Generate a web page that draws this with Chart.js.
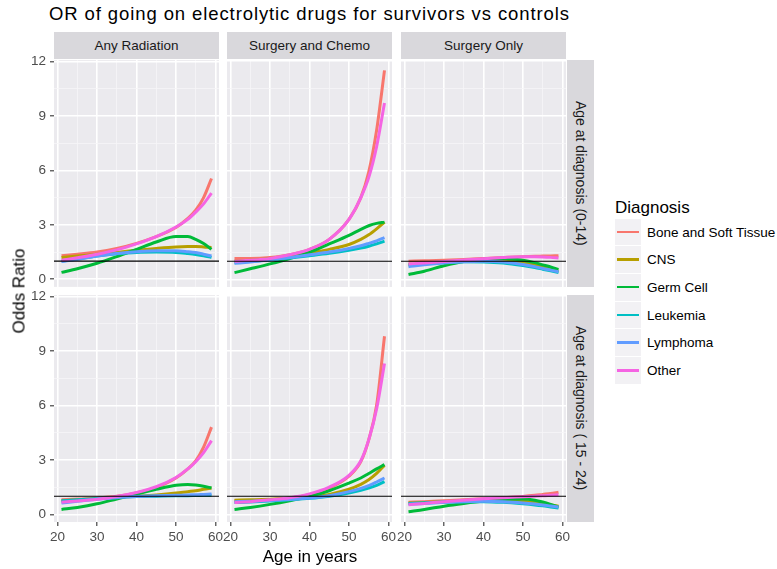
<!DOCTYPE html>
<html>
<head>
<meta charset="utf-8">
<script src="https://cdn.jsdelivr.net/npm/chart.js@4.4.0/dist/chart.umd.min.js"></script>
<style>
  body { margin: 0; background: #fff; }
  #fig { position: relative; width: 777px; height: 569px; overflow: hidden;
         font-family: "Liberation Sans", Arial, sans-serif; }
  #fig canvas { position: absolute; }
  .txt { position: absolute; line-height: 1; white-space: nowrap; }
  .strip { position: absolute; background: #d9d8dc; color: #1a1a1a; font-size: 13.5px;
           display: flex; align-items: center; justify-content: center; white-space: nowrap; }
  .strip.side { writing-mode: vertical-rl; font-size: 14px; }
  .key { position: absolute; left: 615px; width: 26px; height: 26.7px; background: #f2f1f4;
         border-bottom: 1px solid #fff; }
  .key span { position: absolute; left: 2px; right: 2px; top: 12px; height: 2.6px; }
  .keylbl { position: absolute; left: 647px; font-size: 13.5px; line-height: 1; color: #000;
            white-space: nowrap; }
</style>
</head>
<body>
<div id="fig"></div>
<script>
var ages = [21, 25, 30, 35, 40, 45, 50, 53, 55, 57, 59];
var diagnoses = ['Bone and Soft Tissue', 'CNS', 'Germ Cell', 'Leukemia', 'Lymphoma', 'Other'];
var colours = ['#F8766D', '#B79F00', '#00BA38', '#00BFC4', '#619CFF', '#F564E3'];
var treatments = ['Any Radiation', 'Surgery and Chemo', 'Surgery Only'];
var ageGroups = ['Age at diagnosis (0-14)', 'Age at diagnosis ( 15 - 24)'];
var xTicks = [20, 25, 30, 35, 40, 45, 50, 55, 60];
var yTicks = [0, 1.5, 3, 4.5, 6, 7.5, 9, 10.5, 12];
var refLine = 1;

// odds ratios, one row per diagnosis, one column per age
var radiationChild = [
    [1.30, 1.38, 1.50, 1.70, 1.98, 2.35, 2.85, 3.35, 3.80, 4.50, 5.55],
    [1.20, 1.28, 1.38, 1.48, 1.60, 1.70, 1.78, 1.80, 1.80, 1.78, 1.75],
    [0.38, 0.58, 0.88, 1.25, 1.65, 2.05, 2.35, 2.35, 2.20, 1.97, 1.65],
    [1.00, 1.12, 1.28, 1.40, 1.48, 1.50, 1.48, 1.42, 1.37, 1.30, 1.20],
    [0.98, 1.10, 1.28, 1.42, 1.52, 1.57, 1.57, 1.52, 1.47, 1.38, 1.28],
    [1.05, 1.18, 1.38, 1.62, 1.95, 2.35, 2.88, 3.30, 3.70, 4.15, 4.75]
];
var chemoChild = [
    [1.15, 1.15, 1.20, 1.35, 1.65, 2.20, 3.30, 4.50, 5.90, 8.20, 11.5],
    [1.00, 1.05, 1.15, 1.28, 1.45, 1.65, 1.92, 2.20, 2.45, 2.78, 3.15],
    [0.37, 0.58, 0.85, 1.15, 1.50, 1.95, 2.42, 2.75, 2.95, 3.08, 3.15],
    [0.92, 0.98, 1.08, 1.18, 1.30, 1.43, 1.60, 1.72, 1.82, 1.95, 2.10],
    [0.88, 0.96, 1.08, 1.20, 1.35, 1.50, 1.70, 1.85, 1.98, 2.12, 2.30],
    [1.00, 1.05, 1.15, 1.35, 1.65, 2.20, 3.30, 4.50, 5.60, 7.30, 9.70]
];
var surgeryChild = [
    [1.00, 1.02, 1.05, 1.10, 1.15, 1.20, 1.25, 1.27, 1.28, 1.29, 1.30],
    [0.80, 0.86, 0.95, 1.02, 1.06, 1.04, 0.92, 0.80, 0.68, 0.57, 0.45],
    [0.27, 0.45, 0.75, 0.98, 1.10, 1.15, 1.05, 0.92, 0.80, 0.68, 0.55],
    [0.80, 0.86, 0.93, 0.97, 0.96, 0.90, 0.76, 0.65, 0.56, 0.47, 0.38],
    [0.70, 0.80, 0.90, 0.97, 0.99, 0.95, 0.82, 0.70, 0.60, 0.51, 0.42],
    [0.85, 0.90, 0.98, 1.06, 1.14, 1.20, 1.24, 1.24, 1.23, 1.21, 1.18]
];
var radiationYoung = [
    [0.80, 0.84, 0.90, 1.00, 1.18, 1.48, 2.00, 2.50, 2.95, 3.70, 4.80],
    [0.75, 0.80, 0.87, 0.94, 1.00, 1.07, 1.17, 1.25, 1.30, 1.38, 1.45],
    [0.27, 0.38, 0.58, 0.85, 1.12, 1.38, 1.60, 1.65, 1.62, 1.55, 1.45],
    [0.75, 0.80, 0.87, 0.94, 0.98, 1.00, 1.02, 1.03, 1.04, 1.05, 1.05],
    [0.62, 0.72, 0.83, 0.92, 0.98, 1.02, 1.05, 1.07, 1.08, 1.10, 1.12],
    [0.67, 0.73, 0.83, 0.98, 1.20, 1.52, 2.03, 2.50, 2.90, 3.40, 4.06]
];
var chemoYoung = [
    [0.75, 0.75, 0.80, 0.90, 1.10, 1.45, 2.10, 2.90, 4.10, 6.00, 9.80],
    [0.78, 0.80, 0.83, 0.88, 0.95, 1.10, 1.38, 1.65, 1.90, 2.25, 2.70],
    [0.27, 0.38, 0.55, 0.75, 0.98, 1.30, 1.72, 2.00, 2.25, 2.50, 2.74],
    [0.65, 0.68, 0.73, 0.80, 0.88, 1.00, 1.18, 1.33, 1.45, 1.60, 1.80],
    [0.70, 0.72, 0.76, 0.82, 0.90, 1.03, 1.25, 1.43, 1.58, 1.78, 2.00],
    [0.65, 0.70, 0.80, 0.92, 1.13, 1.50, 2.15, 2.95, 4.10, 5.80, 8.30]
];
var surgeryYoung = [
    [0.67, 0.70, 0.75, 0.80, 0.86, 0.92, 0.99, 1.05, 1.10, 1.15, 1.22],
    [0.62, 0.65, 0.70, 0.74, 0.76, 0.76, 0.72, 0.66, 0.60, 0.52, 0.45],
    [0.15, 0.27, 0.45, 0.60, 0.73, 0.82, 0.84, 0.78, 0.68, 0.55, 0.40],
    [0.60, 0.64, 0.68, 0.70, 0.70, 0.66, 0.58, 0.52, 0.47, 0.41, 0.35],
    [0.55, 0.60, 0.66, 0.70, 0.72, 0.70, 0.63, 0.57, 0.52, 0.46, 0.40],
    [0.53, 0.60, 0.70, 0.78, 0.86, 0.92, 0.97, 1.00, 1.02, 1.05, 1.08]
];
var panels = [
    [radiationChild, chemoChild, surgeryChild],
    [radiationYoung, chemoYoung, surgeryYoung]
];

// shared axis limits (ggplot-style 5% expansion)
var xMin = 19.1, xMax = 60.9;
var yMin = -0.42, yMax = 12.07;

var colLeft = [54, 227, 401];
var rowTop = [60, 295];
var panelW = 165, panelH = 227;
var axisW = 36, axisH = 24, margin = 12;
var fontFamily = '"Liberation Sans", Arial, sans-serif';
var fig = document.getElementById('fig');

function addText(text, css) {
    var d = document.createElement('div');
    d.className = 'txt';
    d.textContent = text;
    d.style.cssText = css;
    fig.appendChild(d);
    return d;
}

function addStrip(text, left, top, w, h, side) {
    var d = document.createElement('div');
    d.className = side ? 'strip side' : 'strip';
    d.textContent = text;
    d.style.left = left + 'px';
    d.style.top = top + 'px';
    d.style.width = w + 'px';
    d.style.height = h + 'px';
    fig.appendChild(d);
}

// grey panel background behind the grid
var panelFill = {
    id: 'panelFill',
    beforeDraw: function (chart) {
        var a = chart.chartArea;
        var c = chart.ctx;
        c.save();
        c.fillStyle = '#ebeaee';
        c.fillRect(a.left, a.top, a.right - a.left, a.bottom - a.top);
        c.restore();
    }
};

function gridColour(major) { return major ? '#ffffff' : '#f6f5f8'; }

function makePanel(row, col) {
    var showY = col === 0;
    var showX = row === 1;
    var series = panels[row][col];
    var extraL = showY ? axisW : 0;
    var extraB = showX ? axisH : 0;

    var canvas = document.createElement('canvas');
    canvas.width = panelW + 2 * margin + extraL;
    canvas.height = panelH + 2 * margin + extraB;
    canvas.style.left = (colLeft[col] - margin - extraL) + 'px';
    canvas.style.top = (rowTop[row] - margin) + 'px';
    fig.appendChild(canvas);

    var datasets = [{
        label: 'ref',
        data: [{ x: xMin, y: refLine }, { x: xMax, y: refLine }],
        borderColor: '#000000',
        borderWidth: 1.1,
        pointRadius: 0,
        order: 0
    }];
    diagnoses.forEach(function (name, i) {
        datasets.push({
            label: name,
            data: ages.map(function (a, j) { return { x: a, y: series[i][j] }; }),
            borderColor: colours[i],
            borderWidth: 3,
            pointRadius: 0,
            fill: false,
            cubicInterpolationMode: 'monotone',
            order: diagnoses.length - i
        });
    });

    var tickFont = { family: fontFamily, size: 13.5 };

    new Chart(canvas.getContext('2d'), {
        type: 'line',
        data: { datasets: datasets },
        plugins: [panelFill],
        options: {
            responsive: false,
            animation: false,
            devicePixelRatio: 1,
            layout: { padding: { left: margin, right: margin, top: margin, bottom: margin } },
            plugins: { legend: { display: false }, tooltip: { enabled: false } },
            scales: {
                x: {
                    type: 'linear',
                    min: xMin,
                    max: xMax,
                    afterBuildTicks: function (s) { s.ticks = xTicks.map(function (v) { return { value: v }; }); },
                    afterFit: function (s) { s.height = extraB; },
                    border: { display: false },
                    grid: {
                        drawTicks: showX,
                        tickLength: 4,
                        tickWidth: 1.1,
                        tickColor: function (c) { return c.tick.value % 10 === 0 ? '#333333' : 'rgba(0,0,0,0)'; },
                        color: function (c) { return gridColour(c.tick.value % 10 === 0); },
                        lineWidth: function (c) { return c.tick.value % 10 === 0 ? 1.6 : 0.8; }
                    },
                    ticks: {
                        display: showX,
                        autoSkip: false,
                        maxRotation: 0,
                        padding: 3,
                        color: '#4d4d4d',
                        font: tickFont,
                        callback: function (v) { return v % 10 === 0 ? String(v) : ''; }
                    }
                },
                y: {
                    min: yMin,
                    max: yMax,
                    afterBuildTicks: function (s) { s.ticks = yTicks.map(function (v) { return { value: v }; }); },
                    afterFit: function (s) { s.width = extraL; },
                    border: { display: false },
                    grid: {
                        drawTicks: showY,
                        tickLength: 4,
                        tickWidth: 1.1,
                        tickColor: function (c) { return c.tick.value % 3 === 0 ? '#333333' : 'rgba(0,0,0,0)'; },
                        color: function (c) { return gridColour(c.tick.value % 3 === 0); },
                        lineWidth: function (c) { return c.tick.value % 3 === 0 ? 1.6 : 0.8; }
                    },
                    ticks: {
                        display: showY,
                        autoSkip: false,
                        padding: 4,
                        color: '#4d4d4d',
                        font: tickFont,
                        callback: function (v) { return v % 3 === 0 ? String(v) : ''; }
                    }
                }
            }
        }
    });
}

// facet strips
treatments.forEach(function (t, col) {
    addStrip(t, colLeft[col], 32, panelW, 27, false);
});
ageGroups.forEach(function (g, row) {
    addStrip(g, colLeft[2] + panelW + 1, rowTop[row], 27, panelH, true);
});

for (var r = 0; r < 2; r++) {
    for (var c = 0; c < 3; c++) {
        makePanel(r, c);
    }
}

// titles
addText('OR of going on electrolytic drugs for survivors vs controls',
    'left:49px; top:5px; font-size:18.5px; letter-spacing:0.9px; color:#000;');
addText('Age in years',
    'left:310px; top:547.5px; font-size:17px; color:#000; transform:translateX(-50%);');
addText('Odds Ratio',
    'left:18.5px; top:291px; font-size:17px; color:#000; transform:translate(-50%,-50%) rotate(-90deg);');

// legend
addText('Diagnosis', 'left:615px; top:199px; font-size:17px; color:#000;');
var keyTop = 218.5, keyStep = 27.7;
diagnoses.forEach(function (name, i) {
    var k = document.createElement('div');
    k.className = 'key';
    k.style.top = (keyTop + i * keyStep) + 'px';
    var line = document.createElement('span');
    line.style.background = colours[i];
    k.appendChild(line);
    fig.appendChild(k);
    var l = document.createElement('div');
    l.className = 'keylbl';
    l.textContent = name;
    l.style.top = (keyTop + i * keyStep + 13.8 - 6.75) + 'px';
    fig.appendChild(l);
});
</script>
</body>
</html>
